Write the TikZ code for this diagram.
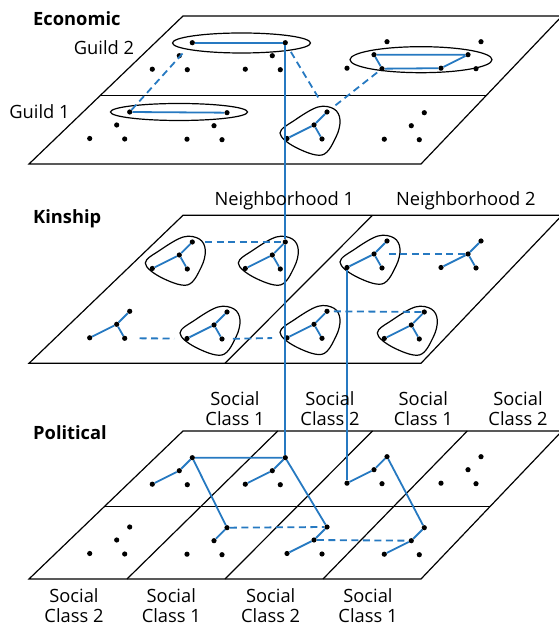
\documentclass[tikz,border=0pt]{standalone}
\usepackage{fontspec}
\setmainfont{Open Sans}
\usetikzlibrary{shapes.geometric}
\definecolor{tieblue}{RGB}{38,121,193}

\tikzset{
  person/.style={circle, fill=black, inner sep=0pt, minimum size=5.2pt},
  tie/.style={tieblue, line width=1.8pt},
  weaktie/.style={tieblue, line width=1.8pt, dash pattern=on 7pt off 4.5pt},
  layer/.style={line width=1.2pt},
  guild/.style={draw, ellipse, line width=1.2pt, inner sep=0pt},
  kin/.style={line width=1.2pt},
  lbl/.style={font=\fontsize{18.3}{20}\selectfont, align=center, inner sep=0pt},
  layername/.style={font=\fontsize{18.3}{20}\selectfont\bfseries, anchor=west, inner sep=0pt},
}

% the same eight households sit in every layer
\newcommand{\households}[1]{%
  \foreach \g/\cx/\cy in {1/150.3/108.3, 2/243.3/108.3, 3/87.7/39, 4/185/38.3,
                          5/345/109.3, 6/439/109.3, 7/285/39, 8/382.3/38.3} {
    \node[person] (#1\g c) at (\cx,\cy) {};
    \node[person] (#1\g t) at (\cx+13,\cy+13) {};
    \node[person] (#1\g l) at (\cx-27,\cy-13.5) {};
    \node[person] (#1\g b) at (\cx+8,\cy-14) {};
  }%
}
\newcommand{\kinblob}[1]{%
  \draw[kin, shift={(#1c.center)}] plot[smooth cycle, tension=0.6]
    coordinates {(4,18) (20,16) (26,5) (22,-12) (8,-30) (-19,-22) (-34,-8) (-19,5)};%
}

\begin{document}
\begin{tikzpicture}[x=1pt,y=1pt]
	\useasboundingbox (0,0) rectangle (558,626);

	% economic layer
	\begin{scope}[shift={(29,462)}]
		\draw[layer] (0,0) -- (392,0) -- (533,148) -- (154,148) -- cycle;
		\draw[layer] (71,68.3) -- (457,68.3);
		\households{e}
		\node[guild, minimum width=138pt, minimum height=20pt] (guildA) at (212.5,121) {};
		\node[guild, minimum width=137pt, minimum height=17pt] (guildB) at (150,52) {};
		\node[guild, minimum width=142pt, minimum height=26pt] (guildC) at (392,104.3) {};
		\kinblob{e7}
	\end{scope}

	% kinship layer
	\begin{scope}[shift={(29,262.7)}]
		\draw[layer] (0,0) -- (392,0) -- (533,148) -- (154,148) -- cycle;
		\draw[layer] (196,0) -- (343.5,148);
		\households{k}
		\foreach \g in {1,2,4,5,7,8} {\kinblob{k\g}}
	\end{scope}

	% political layer
	\begin{scope}[shift={(29,47)}]
		\draw[layer] (0,0) -- (392,0) -- (533,148) -- (154,148) -- cycle;
		\draw[layer] (75.2,72.3) -- (460.9,72.3);
		\foreach \i in {1,2,3} \draw[layer] (98*\i,0) -- (154+94.75*\i,148);
		\households{p}
	\end{scope}

	% ties inside the economic layer
	\draw[tie] (e1t) -- (e2t);
	\draw[tie] (e3t) -- (e4t);
	\draw[tie] (e5c) -- (e6c) -- (e6l) -- (e5b) -- (e5c);
	\draw[tie] (e7l) -- (e7c) -- (e7t) (e7c) -- (e7b);
	\draw[weaktie, shorten >=10pt] (e3t) -- (e1t);
	\draw[weaktie, shorten <=8pt, shorten >=10pt] (e2t) -- (e7t);
	\draw[weaktie, shorten <=8pt] (e7t) -- (e5b);

	% ties inside the kinship layer
	\foreach \g in {1,...,8} \draw[tie] (k\g l) -- (k\g c) -- (k\g t) (k\g c) -- (k\g b);
	\draw[weaktie, shorten <=10pt] (k1t) -- (k2t);
	\draw[weaktie, shorten <=12pt] (k5c) -- (k6c);
	\draw[weaktie, shorten <=12pt, shorten >=10pt] (k3b) -- (k4l);
	\draw[weaktie, shorten <=8pt, shorten >=12pt] (k4b) -- (k7l);
	\draw[weaktie, shorten <=4pt] (k7t) -- (k8t);

	% ties inside the political layer
	\draw[tie] (p1l) -- (p1c) -- (p1t) -- (p2t);
	\draw[tie] (p1t) -- (p4t) -- (p4c);
	\draw[tie] (p2l) -- (p2c) -- (p2t) -- (p7t) -- (p7c) -- (p7l);
	\draw[tie] (p5l) -- (p5c) -- (p5t) -- (p8t) -- (p8c) -- (p8l);
	\draw[weaktie] (p4t) -- (p7t);
	\draw[weaktie] (p7c) -- (p8c);

	% ties between layers
	\draw[tie] (e2t) -- (k2t) -- (p2t);
	\draw[tie] (k5l) -- (p5l);

	% labels
	\node[layername] (econ) at (33,607) {Economic};
	\node[layername] (kinship) at (33,407) {Kinship};
	\node[layername] (politics) at (33,193) {Political};
	\node[lbl] (guild2) at (104,578) {Guild 2};
	\node[lbl] (guild1) at (39.5,514.3) {Guild 1};
	\node[lbl] (hood1) at (284.3,425) {Neighborhood 1};
	\node[lbl] (hood2) at (465.8,425) {Neighborhood 2};
	\foreach \x/\c [count=\n] in {235/1, 330/2, 423.3/1, 518/2}
		\node[lbl] (classtop\n) at (\x,217.5) {Social\\Class \c};
	\foreach \x/\c [count=\n] in {74/2, 171.3/1, 270.7/2, 368/1}
		\node[lbl] (classbot\n) at (\x,20.7) {Social\\Class \c};
\end{tikzpicture}
\end{document}
